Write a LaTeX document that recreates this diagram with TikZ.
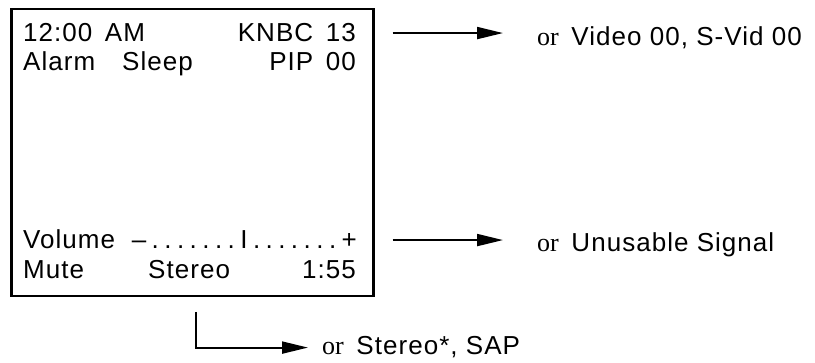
\documentclass[tikz,border=0pt]{standalone}
\usepackage{fontspec}
\setmainfont[LetterSpace=4]{Liberation Sans}
\newfontfamily\orfont{Liberation Serif}
\usetikzlibrary{arrows.meta,positioning}
\tikzset{
  screen/.style={
    rectangle,
    draw=black,
    line width=2.5pt,
    minimum width=362pt,
    minimum height=287pt,
    inner sep=0pt
  },
  lcd/.style={
    font=\fontsize{26}{30}\selectfont,
    inner sep=0pt
  },
  note/.style={
    font=\fontsize{26}{30}\selectfont,
    inner sep=0pt,
    anchor=base west
  },
  arrow/.style={
    -{Triangle[length=26pt,width=12pt]},
    line width=2pt
  }
}
\newcommand{\ortext}{{\orfont or}\ \,}

\begin{document}
\begin{tikzpicture}[x=1pt,y=-1pt]
\useasboundingbox (0,0) rectangle (815,363);

\node[screen, anchor=north west] (screen) at (10,8) {};

\node[lcd, anchor=base west] (clock) at (23,42) {12:00\,\ AM};
\node[lcd, anchor=base east] (knbc) at (356,42) {KNBC\ \,13};
\node[lcd, anchor=base west] (alarm) at (23,71) {Alarm};
\node[lcd, anchor=base west] (sleep) at (122,71) {Sleep};
\node[lcd, anchor=base east] (pip) at (356,71) {PIP\ \,00};

\node[lcd, anchor=base west] (volume) at (23,249) {Volume};
\node[lcd, anchor=base east] (level) at (357,249) {\hbox to 225pt{--\hfill.\hfill.\hfill.\hfill.\hfill.\hfill.\hfill.\hfill I\hfill.\hfill.\hfill.\hfill.\hfill.\hfill.\hfill.\hfill+}};
\node[lcd, anchor=base west] (mute) at (23,279) {Mute};
\node[lcd, anchor=base west] (stereo) at (148,279) {Stereo};
\node[lcd, anchor=base east] (timer) at (356,279) {1:55};

\node[note] (altvideo) at (537,46) {\ortext Video 00, S-Vid 00};
\node[note] (altsignal) at (537,252) {\ortext Unusable Signal};
\node[note] (altaudio) at (322,355) {\ortext Stereo*, SAP};

\coordinate (drop) at (196,312);

\draw[arrow] ([xshift=18pt]screen.east |- knbc.center) -- ([xshift=-34pt]altvideo.west |- knbc.center);
\draw[arrow] ([xshift=18pt]screen.east |- level.center) -- ([xshift=-34pt]altsignal.west |- level.center);
\draw[arrow] (drop) |- ([xshift=-14pt]altaudio.west);

\end{tikzpicture}
\end{document}
